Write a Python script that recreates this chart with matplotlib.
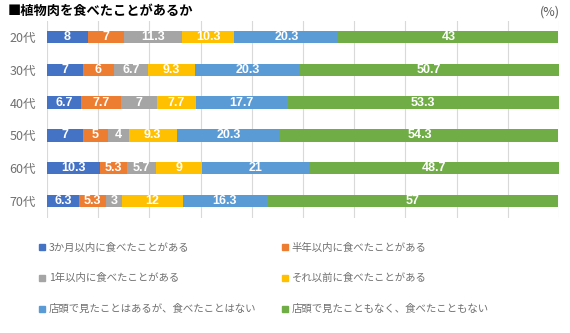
import matplotlib.pyplot as plt
import numpy as np
from matplotlib.patches import Patch

plt.rcParams['font.family'] = ['Noto Sans CJK JP', 'DejaVu Sans']

ages = ['20代', '30代', '40代', '50代', '60代', '70代']
labels = ['3か月以内に食べたことがある', '半年以内に食べたことがある',
          '1年以内に食べたことがある', 'それ以前に食べたことがある',
          '店頭で見たことはあるが、食べたことはない', '店頭で見たこともなく、食べたこともない']
colors = ['#4472C4', '#ED7D31', '#A5A5A5', '#FFC000', '#5B9BD5', '#70AD47']

within_3m = [8, 7, 6.7, 7, 10.3, 6.3]
within_6m = [7, 6, 7.7, 5, 5.3, 5.3]
within_1y = [11.3, 6.7, 7, 4, 5.7, 3]
earlier = [10.3, 9.3, 7.7, 9.3, 9, 12]
seen_not_eaten = [20.3, 20.3, 17.7, 20.3, 21, 16.3]
never = [43, 50.7, 53.3, 54.3, 48.7, 57]
series = [within_3m, within_6m, within_1y, earlier, seen_not_eaten, never]

fig = plt.figure(figsize=(5.7, 3.33), dpi=100)
ax = fig.add_axes([47/570, 1 - 217.5/333, 512/570, 197/333])

y = np.arange(len(ages))
left = np.zeros(len(ages))
for vals, col in zip(series, colors):
    vals = np.array(vals)
    bars = ax.barh(y, vals, left=left, height=0.38, color=col, zorder=2)
    for b, v in zip(bars, vals):
        ax.text(b.get_x() + b.get_width() / 2, b.get_y() + b.get_height() / 2,
                f'{v:g}', ha='center', va='center', color='white',
                fontsize=9, fontweight='bold', family=['Liberation Sans', 'DejaVu Sans'])
    left += vals

ax.set_xlim(0, 100)
ax.set_ylim(len(ages) - 0.5, -0.5)
ax.set_xticks(np.arange(0, 101, 10))
ax.set_xticklabels([])
ax.tick_params(axis='x', length=0)
ax.tick_params(axis='y', length=0, pad=8, labelsize=9, labelcolor='#707070')
ax.set_yticks(y)
ax.set_yticklabels(ages)
ax.grid(axis='x', color='#D9D9D9', linewidth=0.8, zorder=0)
for s in ax.spines.values():
    s.set_visible(False)

fig.text(8/570, 1 - 11/333, '■植物肉を食べたことがあるか', fontsize=9.5,
         fontweight='bold', va='center', ha='left')
fig.text(560/570, 1 - 12/333, '(%)', fontsize=9, color='#595959',
         va='center', ha='right')

handles = [Patch(color=c) for c in colors]
for col_idx, x0 in enumerate([30/570, 273/570]):
    idx = [col_idx, col_idx + 2, col_idx + 4]
    fig.legend([handles[i] for i in idx], [labels[i] for i in idx],
               loc='upper left', bbox_to_anchor=(x0, 1 - 233/333),
               frameon=False, fontsize=7.5, labelcolor='#707070',
               handlelength=0.5, handleheight=0.5, handletextpad=0.4,
               labelspacing=2.0)

fig.savefig('out.png', dpi=100)
